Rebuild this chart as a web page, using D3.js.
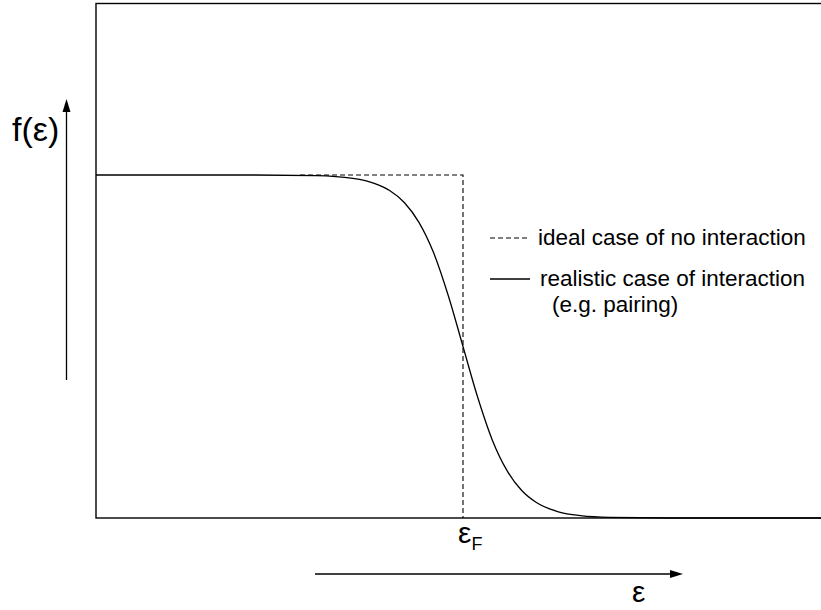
<!DOCTYPE html>
<html>
<head>
<meta charset="utf-8">
<script src="https://cdn.jsdelivr.net/npm/d3@7"></script>
<style>
  html, body { margin: 0; padding: 0; background: #fff; }
  svg { display: block; }
  text { font-family: "Liberation Sans", Arial, Helvetica, sans-serif; fill: #000; }
</style>
</head>
<body>
<svg id="chart" width="821" height="610"></svg>
<script>
// Occupation f(ε) versus energy ε, Fermi energy at ε = 5
const energy = [0, 1, 2, 3, 3.5, 3.8, 4.0, 4.2, 4.4, 4.6, 4.8, 5.0, 5.2, 5.4, 5.6, 5.8, 6.0, 6.3, 6.6, 7, 8, 9, 10];
const occupancyRealistic = [1, 1, 1, 0.998, 0.990, 0.975, 0.955, 0.920, 0.862, 0.773, 0.648, 0.5, 0.352, 0.227, 0.138, 0.080, 0.045, 0.018, 0.007, 0.002, 0, 0, 0];
const idealEnergy = [2.78, 5, 5];
const occupancyIdeal = [1, 1, 0];
const fermiEnergy = 5;
const legendLabels = ["ideal case of no interaction", "realistic case of interaction", "(e.g. pairing)"];

const svg = d3.select("#chart");

const x = d3.scaleLinear().domain([0, 10]).range([96, 830]);
const y = d3.scaleLinear().domain([0, 1.5]).range([518, 3.5]);

// frame of the plot area
svg.append("rect")
  .attr("x", x(0)).attr("y", y(1.5))
  .attr("width", x(10) - x(0)).attr("height", y(0) - y(1.5))
  .attr("fill", "none").attr("stroke", "#000").attr("stroke-width", 1.4);

const line = d3.line().x(d => x(d[0])).y(d => y(d[1]));

// step function (no interaction)
svg.append("path")
  .datum(d3.zip(idealEnergy, occupancyIdeal))
  .attr("d", line)
  .attr("fill", "none").attr("stroke", "#000").attr("stroke-width", 1.1)
  .attr("stroke-dasharray", "5,3");

// smoothed occupation (with interaction)
svg.append("path")
  .datum(d3.zip(energy, occupancyRealistic))
  .attr("d", line.curve(d3.curveMonotoneX))
  .attr("fill", "none").attr("stroke", "#000").attr("stroke-width", 1.3);

// εF label under the step
const ef = svg.append("text")
  .attr("x", x(fermiEnergy) - 5).attr("y", 543)
  .attr("font-size", 30);
ef.append("tspan").text("ε");
ef.append("tspan").attr("font-size", 18).attr("dy", 7).text("F");

// legend
const lg = svg.append("g");
lg.append("line").attr("x1", 490).attr("x2", 530).attr("y1", 238).attr("y2", 238)
  .attr("stroke", "#000").attr("stroke-width", 1.1).attr("stroke-dasharray", "5,3");
lg.append("line").attr("x1", 490).attr("x2", 530).attr("y1", 279).attr("y2", 279)
  .attr("stroke", "#000").attr("stroke-width", 1.3);
lg.append("text").attr("x", 538).attr("y", 245).attr("font-size", 22.5).text(legendLabels[0]);
lg.append("text").attr("x", 540).attr("y", 286).attr("font-size", 22.5).text(legendLabels[1]);
lg.append("text").attr("x", 552).attr("y", 312).attr("font-size", 22.5).text(legendLabels[2]);

// axis arrows
svg.append("line").attr("x1", 66.5).attr("x2", 66.5).attr("y1", 380).attr("y2", 110)
  .attr("stroke", "#000").attr("stroke-width", 1.3);
svg.append("path").attr("d", "M66.5,99 L62.5,112 L70.5,112 Z").attr("fill", "#000");

svg.append("line").attr("x1", 315).attr("x2", 672).attr("y1", 574).attr("y2", 574)
  .attr("stroke", "#000").attr("stroke-width", 1.3);
svg.append("path").attr("d", "M683,574 L670,570 L670,578 Z").attr("fill", "#000");

svg.append("text").attr("x", 12).attr("y", 141).attr("font-size", 34).text("f(ε)");
svg.append("text").attr("x", 632).attr("y", 602).attr("font-size", 30).text("ε");
</script>
</body>
</html>
